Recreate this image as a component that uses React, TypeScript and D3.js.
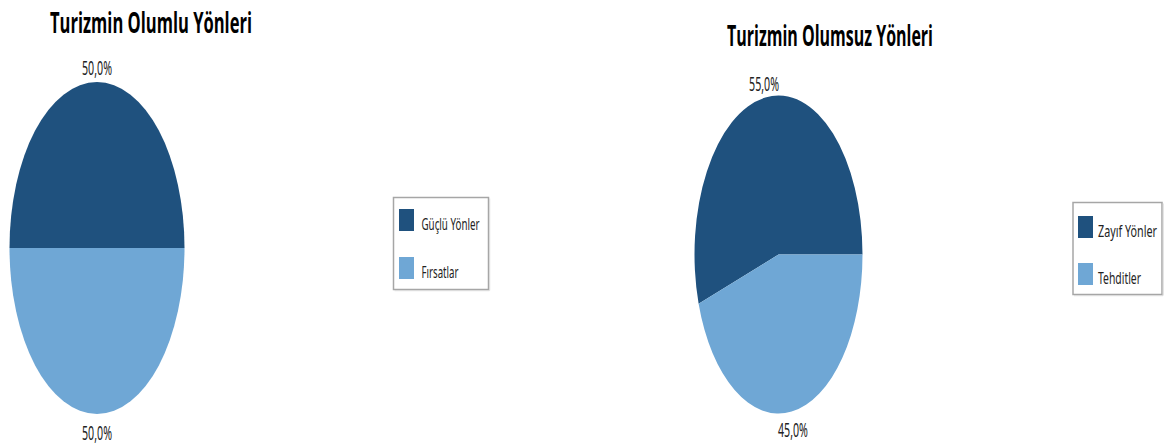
import React from "react";
import * as d3 from "d3";

const leftTitle = "Turizmin Olumlu Yönleri";
const leftCategories = ["Güçlü Yönler", "Fırsatlar"];
const leftValues = [50, 50];

const rightTitle = "Turizmin Olumsuz Yönleri";
const rightCategories = ["Zayıf Yönler", "Tehditler"];
const rightValues = [55, 45];

const colors = ["#1f517e", "#6fa7d5"];

const SY = 1.9; // vertical stretch of the picture

const fmt = (v: number) => d3.format(".1f")(v).replace(".", ",") + "%";

type PieCfg = {
  title: string;
  cats: string[];
  vals: number[];
  cx: number;
  cy: number;
  rx: number;
  ry: number;
  titleX: number;
  titleY: number;
  titleW: number;
  legend: { x: number; y: number; w: number; h: number; sx: number; sy: number; step: number; tx: number; textW: number[] };
};

const charts: PieCfg[] = [
  {
    title: leftTitle,
    cats: leftCategories,
    vals: leftValues,
    cx: 97,
    cy: 248,
    rx: 87.5,
    ry: 166,
    titleX: 151,
    titleY: 33,
    titleW: 202,
    legend: { x: 393.5, y: 197.5, w: 95, h: 92, sx: 399, sy: 209, step: 48, tx: 421.5, textW: [58, 37] },
  },
  {
    title: rightTitle,
    cats: rightCategories,
    vals: rightValues,
    cx: 778.5,
    cy: 254.5,
    rx: 84,
    ry: 159,
    titleX: 830,
    titleY: 45.5,
    titleW: 206,
    legend: { x: 1073, y: 202.5, w: 89, h: 92, sx: 1078, sy: 216, step: 47, tx: 1098, textW: [59, 43] },
  },
];

function Pie({ c }: { c: PieCfg }) {
  const pie = d3
    .pie<number>()
    .sort(null)
    .startAngle(Math.PI / 2)
    .endAngle(Math.PI / 2 - 2 * Math.PI);
  const arcs = pie(c.vals);
  const R = 100;
  const arc = d3.arc<d3.PieArcDatum<number>>().innerRadius(0).outerRadius(R);
  const total = d3.sum(c.vals);
  const lg = c.legend;
  return (
    <g>
      <text
        transform={`translate(${c.titleX},${c.titleY}) scale(1,${SY})`}
        textAnchor="middle"
        fontFamily="'Open Sans', 'Noto Sans', sans-serif"
        fontWeight="bold"
        fontSize={15}
        textLength={c.titleW}
        lengthAdjust="spacingAndGlyphs"
        fill="#000"
      >
        {c.title}
      </text>
      <g transform={`translate(${c.cx},${c.cy}) scale(${c.rx / R},${c.ry / R})`}>
        {arcs.map((a, i) => (
          <path key={i} d={arc(a) || ""} fill={colors[i]} />
        ))}
      </g>
      {arcs.map((a, i) => {
        const mid = (a.startAngle + a.endAngle) / 2;
        const k = 1.1;
        const x = c.cx + c.rx * k * Math.sin(mid);
        const y = c.cy - c.ry * k * Math.cos(mid) + 2;
        return (
          <text
            key={i}
            transform={`translate(${x},${y}) scale(1,${SY})`}
            textAnchor="middle"
            dominantBaseline="central"
            fontFamily="'Noto Sans', sans-serif"
            fontSize={10.3}
            textLength={30}
            lengthAdjust="spacingAndGlyphs"
            fill="#222"
          >
            {fmt((c.vals[i] / total) * 100)}
          </text>
        );
      })}
      <rect x={lg.x} y={lg.y} width={lg.w} height={lg.h} fill="#fff" stroke="#a6a6a6" strokeWidth={1.5} />
      <line x1={lg.x + 1} x2={lg.x + lg.w + 1} y1={lg.y + lg.h + 1.2} y2={lg.y + lg.h + 1.2} stroke="#d9d9d9" strokeWidth={1} />
      <line x1={lg.x + lg.w + 1.2} x2={lg.x + lg.w + 1.2} y1={lg.y + 1} y2={lg.y + lg.h + 1} stroke="#d9d9d9" strokeWidth={1} />
      {c.cats.map((cat, i) => (
        <g key={cat}>
          <rect x={lg.sx} y={lg.sy + i * lg.step} width={15} height={22} fill={colors[i]} />
          <text
            transform={`translate(${lg.tx},${lg.sy + i * lg.step + 21}) scale(1,${SY})`}
            fontFamily="'Noto Sans', sans-serif"
            fontSize={8.8}
            textLength={lg.textW[i]}
            lengthAdjust="spacingAndGlyphs"
            fill="#222"
          >
            {cat}
          </text>
        </g>
      ))}
    </g>
  );
}

export default function App() {
  return (
    <svg
      width={1169}
      height={445}
      style={{ position: "absolute", left: 0, top: 0, background: "#fff" }}
    >
      <rect width={1169} height={445} fill="#fff" />
      {charts.map((c, i) => (
        <Pie key={i} c={c} />
      ))}
    </svg>
  );
}
